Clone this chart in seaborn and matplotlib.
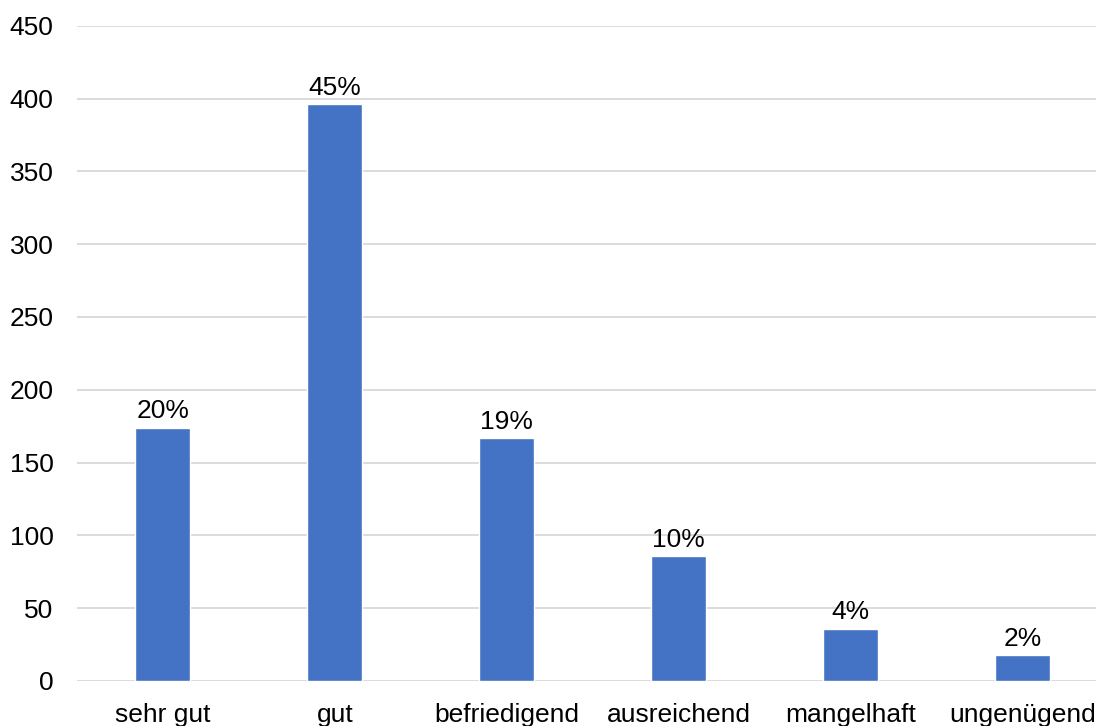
import matplotlib
matplotlib.use("Agg")
import matplotlib.pyplot as plt
import seaborn as sns
import pandas as pd

categories = ["sehr gut", "gut", "befriedigend", "ausreichend", "mangelhaft", "ungenügend"]
counts = [174, 396, 167, 86, 36, 18]
pct_labels = ["20%", "45%", "19%", "10%", "4%", "2%"]
y_ticks = [0, 50, 100, 150, 200, 250, 300, 350, 400, 450]

sns.set_theme(style="white")
plt.rcParams["font.family"] = ["Liberation Sans", "DejaVu Sans"]

df = pd.DataFrame({"Note": categories, "Anzahl": counts})

fig = plt.figure(figsize=(10.96, 7.26), dpi=100)
ax = fig.add_axes([77 / 1096, 45 / 726, (1108.5 - 77) / 1096, (681 - 25.7) / 726])

sns.barplot(data=df, x="Note", y="Anzahl", color="#4472C4", saturation=1,
            width=0.32, ax=ax, zorder=3)

ax.set_ylim(0, 450)
ax.set_xlim(-0.5, 5.5)
ax.set_yticks(y_ticks)
ax.yaxis.grid(True, color="#d9d9d9", linewidth=1.3, zorder=0)
ax.set_axisbelow(True)
for s in ax.spines.values():
    s.set_visible(False)
ax.set_xlabel("")
ax.set_ylabel("")
ax.tick_params(axis="y", length=0, pad=17, labelsize=19, labelcolor="#000000")
ax.tick_params(axis="x", length=0, pad=16, labelsize=19, labelcolor="#000000")

ax.bar_label(ax.containers[0], labels=pct_labels, padding=3, fontsize=19, color="#000000")

fig.savefig("out.png", dpi=100)
